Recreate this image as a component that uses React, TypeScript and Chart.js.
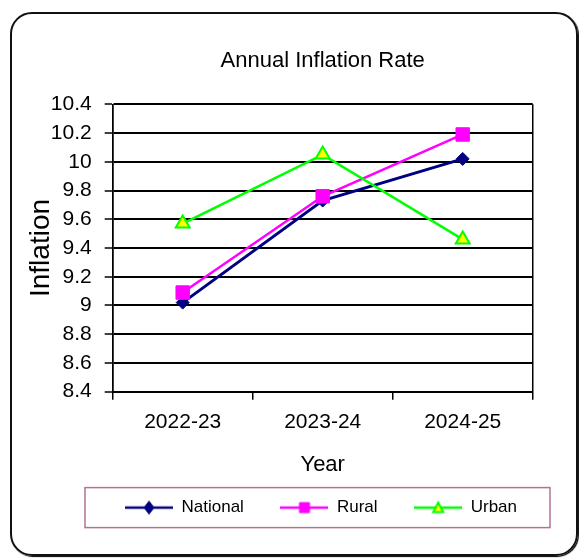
import React, { useEffect, useRef } from 'react';
import { Chart, registerables } from 'chart.js';

Chart.register(...registerables);

// ---- data ----
const categories = ['2022-23', '2023-24', '2024-25'];
const nationalValues = [9.02, 9.73, 10.02];
const ruralValues = [9.09, 9.76, 10.19];
const urbanValues = [9.57, 10.05, 9.46];
const seriesLabels = ['National', 'Rural', 'Urban'];
const yAxisMin = 8.4;
const yAxisMax = 10.4;
const yAxisStep = 0.2;
const chartTitle = 'Annual Inflation Rate';
const xAxisTitle = 'Year';
const yAxisTitle = 'Inflation';

// ---- styles ----
const SANS = "'Liberation Sans', Arial, sans-serif";
const NAVY = '#000080';
const MAGENTA = '#ff00ff';
const LIME = '#00ff00';
const YELLOW = '#ffff00';
const LEGEND_PAD = 36.6;
const LEGEND_FONT = 17;

function makeLegendIcon(lineColor: string, fillColor: string, borderColor: string, shape: string) {
  const c = document.createElement('canvas');
  c.width = 48;
  c.height = 16;
  const ctx = c.getContext('2d')!;
  ctx.strokeStyle = lineColor;
  ctx.lineWidth = 2.5;
  ctx.beginPath();
  ctx.moveTo(0, 8);
  ctx.lineTo(48, 8);
  ctx.stroke();
  ctx.fillStyle = fillColor;
  ctx.strokeStyle = borderColor;
  ctx.lineWidth = shape === 'triangle' ? 2 : 1;
  ctx.beginPath();
  if (shape === 'diamond') {
    ctx.moveTo(24, 1.5);
    ctx.lineTo(29, 8);
    ctx.lineTo(24, 14.5);
    ctx.lineTo(19, 8);
  } else if (shape === 'square') {
    ctx.rect(19, 3, 10, 10);
  } else {
    ctx.moveTo(24, 3);
    ctx.lineTo(29, 12.5);
    ctx.lineTo(19, 12.5);
  }
  ctx.closePath();
  ctx.fill();
  ctx.stroke();
  return c;
}

// legend spans from the y-axis title column to the right edge of the frame
const legendShiftPlugin = {
  id: 'legendShift',
  afterUpdate(chart: any) {
    const lg = chart.legend;
    if (!lg) return;
    lg.left = 63;
  },
};

// thin mauve box around the legend entries
const legendFramePlugin = {
  id: 'legendFrame',
  afterDraw(chart: any) {
    const lg = chart.legend;
    if (!lg || !lg.lineWidths) return;
    const lineW = lg.lineWidths[0];
    const start = (lg.left + LEGEND_PAD + lg.right - lineW) / 2;
    const end = start + lineW - LEGEND_PAD;
    const cy = lg.top + LEGEND_PAD + LEGEND_FONT / 2;
    const ctx = chart.ctx;
    ctx.save();
    ctx.strokeStyle = '#b07394';
    ctx.lineWidth = 1.5;
    ctx.strokeRect(start - 40, cy - 20, end - start + 73, 40);
    ctx.restore();
  },
};

export default function App() {
  const ref = useRef<HTMLCanvasElement>(null);

  useEffect(() => {
    const icons = [
      makeLegendIcon(NAVY, NAVY, NAVY, 'diamond'),
      makeLegendIcon(MAGENTA, MAGENTA, MAGENTA, 'square'),
      makeLegendIcon(LIME, YELLOW, LIME, 'triangle'),
    ];
    const chart = new Chart(ref.current!, {
      type: 'line',
      data: {
        labels: categories,
        datasets: [
          {
            label: seriesLabels[0],
            data: nationalValues,
            borderColor: NAVY,
            backgroundColor: NAVY,
            borderWidth: 3,
            pointStyle: 'rectRot',
            pointRadius: 6.5,
            pointBackgroundColor: NAVY,
            pointBorderColor: NAVY,
            pointBorderWidth: 1,
            order: 3,
          },
          {
            label: seriesLabels[1],
            data: ruralValues,
            borderColor: MAGENTA,
            backgroundColor: MAGENTA,
            borderWidth: 2.5,
            pointStyle: 'rect',
            pointRadius: 9.5,
            pointBackgroundColor: MAGENTA,
            pointBorderColor: MAGENTA,
            pointBorderWidth: 1,
            order: 2,
          },
          {
            label: seriesLabels[2],
            data: urbanValues,
            borderColor: LIME,
            backgroundColor: YELLOW,
            borderWidth: 2.5,
            pointStyle: 'triangle',
            pointRadius: 8,
            pointBackgroundColor: YELLOW,
            pointBorderColor: LIME,
            pointBorderWidth: 2,
            order: 1,
          },
        ],
      },
      options: {
        responsive: false,
        animation: false,
        layout: { padding: { left: 0, right: 0, top: 0, bottom: 31.9 } },
        plugins: {
          tooltip: { enabled: false },
          title: {
            display: true,
            text: chartTitle,
            fullSize: false,
            color: '#000',
            font: { family: SANS, size: 22, weight: 'normal' },
            padding: { top: 47.5, bottom: 30.4 },
          },
          legend: {
            display: true,
            position: 'bottom',
            fullSize: true,
            labels: {
              usePointStyle: true,
              pointStyleWidth: 48,
              padding: LEGEND_PAD,
              color: '#000',
              font: { family: SANS, size: LEGEND_FONT },
              generateLabels: (ch: any) =>
                ch.data.datasets.map((ds: any, i: number) => ({
                  text: ds.label,
                  pointStyle: icons[i],
                  datasetIndex: i,
                  hidden: false,
                  lineWidth: 0,
                  strokeStyle: 'rgba(0,0,0,0)',
                  fillStyle: 'rgba(0,0,0,0)',
                  fontColor: '#000',
                })),
            },
          },
        },
        scales: {
          x: {
            offset: true,
            grid: {
              offset: true,
              color: (c: any) => (c.type === 'tick' && c.index > 0 ? 'rgba(0,0,0,0)' : '#000'),
              lineWidth: 1.5,
              tickColor: '#000',
              tickLength: 8,
              tickWidth: 1.5,
            },
            border: { display: true, color: '#000', width: 2 },
            ticks: {
              color: '#000',
              padding: 9.7,
              font: { family: SANS, size: 21 },
              maxRotation: 0,
            },
            title: {
              display: true,
              text: xAxisTitle,
              color: '#000',
              font: { family: SANS, size: 22 },
              padding: { top: 0, bottom: -15.7 },
            },
            afterFit: (s: any) => {
              s.height = 70.8;
            },
          },
          y: {
            min: yAxisMin,
            max: yAxisMax,
            grid: {
              color: '#000',
              lineWidth: 2,
              tickColor: '#000',
              tickLength: 8,
              tickWidth: 1.5,
            },
            border: { display: true, color: '#000', width: 1.5 },
            ticks: {
              stepSize: yAxisStep,
              autoSkip: false,
              color: '#000',
              padding: 13,
              font: { family: SANS, size: 21 },
              callback: (v: any) => String(Math.round(Number(v) * 10) / 10),
            },
            title: {
              display: true,
              text: yAxisTitle,
              color: '#000',
              font: { family: SANS, size: 28 },
              padding: { top: 24.2, bottom: 0 },
            },
            afterFit: (s: any) => {
              s.width = 112.7;
            },
          },
          y2: {
            type: 'linear',
            position: 'right',
            display: true,
            grid: { display: false, drawTicks: false },
            ticks: { display: false },
            border: { display: false },
            afterFit: (s: any) => {
              s.width = 46.3;
            },
          },
        },
      } as any,
      plugins: [legendShiftPlugin, legendFramePlugin],
    });
    return () => chart.destroy();
  }, []);

  return (
    <div style={{ position: 'absolute', left: 0, top: 0, width: 579, height: 558, background: '#fff' }}>
      <div
        style={{
          position: 'absolute',
          left: 10,
          top: 12,
          width: 568,
          height: 544,
          boxSizing: 'border-box',
          border: '2px solid #111',
          borderRadius: 22,
          boxShadow: '1px 1px 1px #000',
        }}
      />
      <canvas
        ref={ref}
        width={579}
        height={558}
        style={{ position: 'absolute', left: 0, top: 0, width: 579, height: 558 }}
      />
    </div>
  );
}
